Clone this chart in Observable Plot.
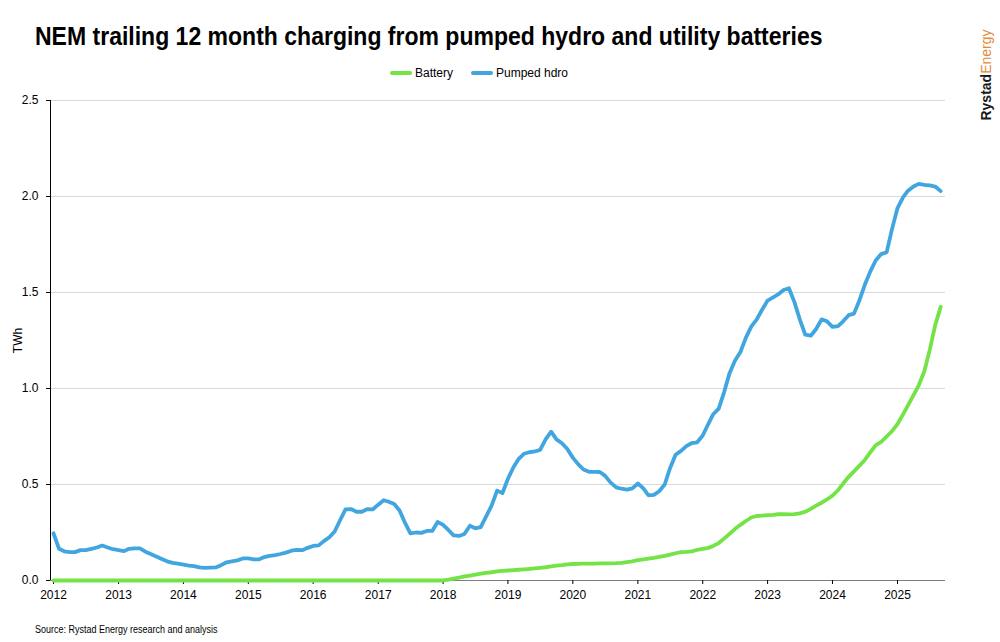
<!DOCTYPE html>
<html><head><meta charset="utf-8">
<script src="https://cdn.jsdelivr.net/npm/d3@7"></script>
<script src="https://cdn.jsdelivr.net/npm/@observablehq/plot@0.6"></script>
<style>
body{margin:0;width:1000px;height:642px;background:#fff;position:relative;overflow:hidden;font-family:"Liberation Sans",Arial,sans-serif;color:#000;}
#title{position:absolute;left:35px;top:21px;font-size:26px;font-weight:bold;white-space:nowrap;transform:scaleX(0.885);transform-origin:0 0;}
#legend{position:absolute;top:66px;left:0;width:958px;display:flex;justify-content:center;align-items:center;font-size:12px;}
#legend .item{display:flex;align-items:center;margin:0 9px;}
#legend .sw{width:22px;height:4px;border-radius:2px;margin-right:3px;}
#chart{position:absolute;left:0;top:88px;}
#source{position:absolute;left:35px;top:624px;font-size:10px;white-space:nowrap;transform:scaleX(0.9);transform-origin:0 0;}
#logo{position:absolute;left:986px;top:75px;transform:translate(-50%,-50%) rotate(-90deg);font-size:14px;white-space:nowrap;}
#logo b{color:#1a1a1a;}
#logo span{color:#e38b3a;}
</style>
</head><body>
<div id="title">NEM trailing 12 month charging from pumped hydro and utility batteries</div>
<div id="legend"></div>
<div id="chart"></div>
<div id="source">Source: Rystad Energy research and analysis</div>
<div id="logo"><b>Rystad</b><span>Energy</span></div>
<script>
const seriesNames = ["Battery", "Pumped hdro"];
const seriesColors = ["#73e346", "#41a6df"];
const startMonth = "2012-01";
const yearTicks = [2012,2013,2014,2015,2016,2017,2018,2019,2020,2021,2022,2023,2024,2025];
const yTicks = [0, 0.5, 1.0, 1.5, 2.0, 2.5];

const pumpedHydro = [
0.246,0.165,0.152,0.148,0.148,0.158,0.158,0.165,0.172,0.182,0.172,0.163,
0.158,0.153,0.165,0.167,0.167,0.150,0.138,0.125,0.112,0.100,0.092,0.088,
0.083,0.078,0.075,0.068,0.066,0.067,0.068,0.080,0.095,0.100,0.105,0.115,
0.115,0.110,0.110,0.122,0.128,0.132,0.138,0.145,0.155,0.160,0.158,0.170,
0.180,0.183,0.205,0.225,0.255,0.315,0.370,0.372,0.358,0.358,0.372,0.370,
0.395,0.418,0.410,0.398,0.365,0.300,0.245,0.250,0.248,0.258,0.258,0.305,
0.290,0.262,0.235,0.232,0.242,0.285,0.272,0.278,0.335,0.390,0.468,0.455,
0.530,0.590,0.632,0.660,0.668,0.672,0.680,0.735,0.775,0.735,0.715,0.685,
0.640,0.605,0.578,0.566,0.566,0.565,0.545,0.510,0.485,0.478,0.473,0.480,
0.505,0.480,0.444,0.446,0.465,0.500,0.585,0.655,0.675,0.700,0.716,0.720,
0.755,0.815,0.866,0.895,0.980,1.080,1.145,1.190,1.265,1.322,1.360,1.410,
1.458,1.475,1.490,1.513,1.522,1.450,1.360,1.280,1.275,1.310,1.360,1.350,
1.321,1.325,1.350,1.382,1.390,1.460,1.540,1.610,1.668,1.700,1.710,1.830,
1.940,1.995,2.030,2.052,2.066,2.061,2.058,2.052,2.028
];
const battery = [
0,0,0,0,0,0,0,0,0,0,0,0,
0,0,0,0,0,0,0,0,0,0,0,0,
0,0,0,0,0,0,0,0,0,0,0,0,
0,0,0,0,0,0,0,0,0,0,0,0,
0,0,0,0,0,0,0,0,0,0,0,0,
0,0,0,0,0,0,0,0,0,0,0,0,
0.001,0.005,0.010,0.015,0.021,0.026,0.031,0.036,0.040,0.043,0.047,0.050,
0.052,0.054,0.056,0.058,0.060,0.063,0.066,0.069,0.073,0.077,0.080,0.084,
0.086,0.087,0.088,0.088,0.088,0.089,0.089,0.089,0.090,0.092,0.096,0.100,
0.106,0.110,0.114,0.118,0.123,0.128,0.135,0.142,0.148,0.149,0.152,0.160,
0.165,0.170,0.180,0.195,0.218,0.243,0.268,0.290,0.310,0.328,0.336,0.338,
0.340,0.342,0.345,0.346,0.344,0.346,0.350,0.358,0.373,0.390,0.405,0.422,
0.442,0.470,0.505,0.540,0.568,0.598,0.628,0.668,0.705,0.722,0.750,0.778,
0.815,0.865,0.912,0.965,1.018,1.090,1.200,1.330,1.425
];

const start = d3.utcParse("%Y-%m")(startMonth);
const toRows = (vals) => vals.map((v, i) => ({date: d3.utcMonth.offset(start, i), value: v}));
const batteryRows = toRows(battery);
const hydroRows = toRows(pumpedHydro);
const xTickDates = yearTicks.map(y => new Date(Date.UTC(y, 0, 1)));
const xDomain = [new Date(Date.UTC(2011, 11, 15)), new Date(Date.UTC(2025, 8, 28))];

const legend = document.getElementById("legend");
seriesNames.forEach((n, i) => {
  const it = document.createElement("div");
  it.className = "item";
  it.innerHTML = `<div class="sw" style="background:${seriesColors[i]}"></div><div>${n}</div>`;
  legend.appendChild(it);
});

const chart = Plot.plot({
  width: 1000,
  height: 530,
  marginTop: 12,
  marginBottom: 38,
  marginLeft: 50,
  marginRight: 55,
  style: {fontFamily: '"Liberation Sans",Arial,sans-serif', fontSize: "12px", color: "#000", background: "#fff", overflow: "visible"},
  x: {type: "utc", domain: xDomain},
  y: {domain: [0, 2.5]},
  marks: [
    Plot.gridY(yTicks.filter(d => d > 0), {stroke: "#d9d9d9", strokeOpacity: 1, strokeWidth: 1}),
    Plot.ruleY([0], {stroke: "#7f7f7f", strokeWidth: 1.2}),
    Plot.ruleX([xDomain[0]], {y1: 0, y2: 2.5, stroke: "#000", strokeWidth: 1}),
    Plot.axisY({ticks: yTicks, tickFormat: d3.format(".1f"), tickSize: 4, tickPadding: 8, label: "TWh", labelAnchor: "center", labelArrow: "none", labelOffset: 37, fontSize: 12}),
    Plot.axisX({ticks: xTickDates, tickFormat: d3.utcFormat("%Y"), tickSize: 4, tickPadding: 6, label: null, fontSize: 12}),
    Plot.line(hydroRows, {x: "date", y: "value", stroke: seriesColors[1], strokeWidth: 3.8, strokeLinejoin: "round", strokeLinecap: "round"}),
    Plot.line(batteryRows, {x: "date", y: "value", stroke: seriesColors[0], strokeWidth: 3.8, strokeLinejoin: "round", strokeLinecap: "round"})
  ]
});
document.getElementById("chart").appendChild(chart);
</script>
</body></html>
